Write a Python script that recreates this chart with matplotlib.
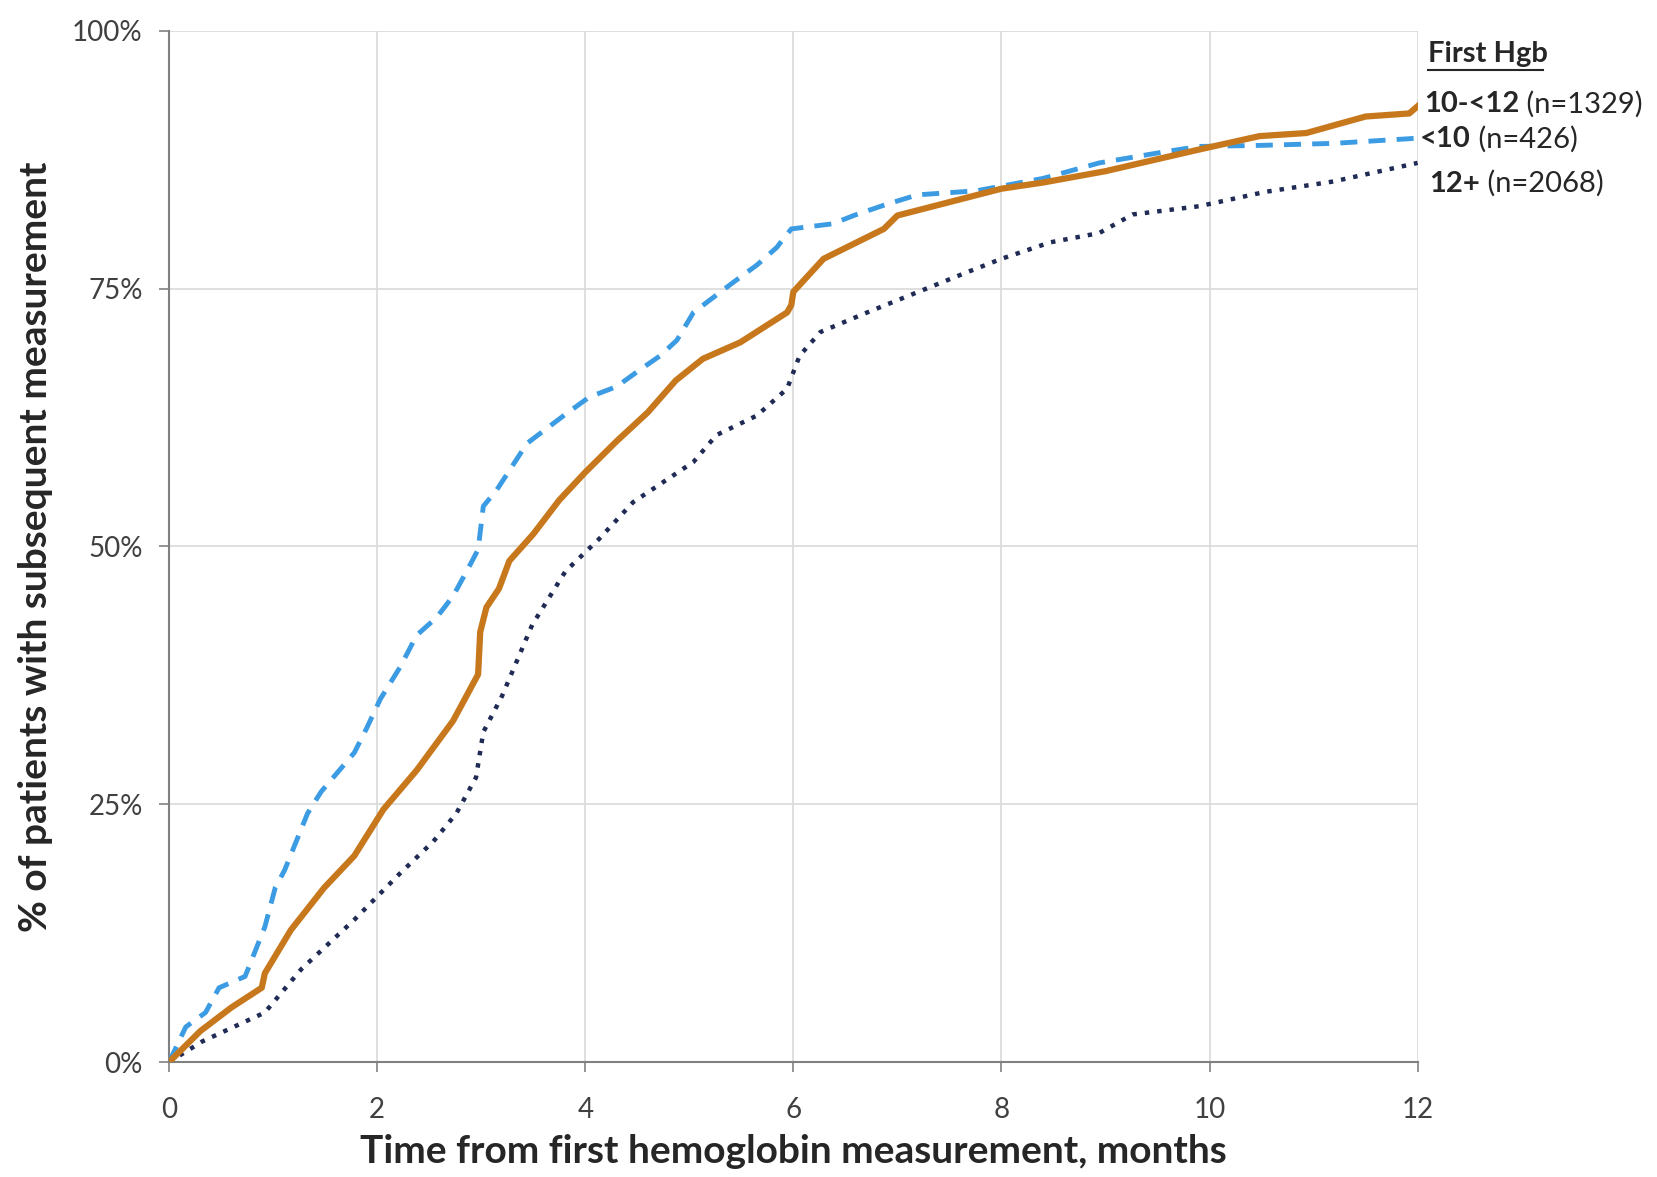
import matplotlib
matplotlib.use('Agg')
import matplotlib.pyplot as plt
import numpy as np

plt.rcParams['font.family'] = ['Lato', 'DejaVu Sans']

# months / cumulative % with a subsequent measurement, by first Hgb group
# 10-<12
x_mid = [0, 0.3, 0.6, 0.89, 0.92, 1.17, 1.49, 1.78, 2.06, 2.38, 2.73, 2.97, 2.99, 3.05, 3.17,
         3.27, 3.5, 3.75, 4.0, 4.3, 4.6, 4.87, 5.13, 5.49, 5.94, 5.98, 6.0, 6.29, 6.87, 7.0,
         7.5, 8.0, 8.4, 9.0, 9.9, 10.48, 10.93, 11.5, 11.92, 12.0]
y_mid = [0, 3, 5.3, 7.2, 8.6, 12.8, 16.9, 20, 24.5, 28.3, 33.1, 37.6, 41.7, 44.1, 45.9,
         48.6, 51.2, 54.5, 57.2, 60.2, 63, 66.1, 68.2, 69.8, 72.7, 73.4, 74.7, 77.9, 80.8, 82.1,
         83.4, 84.7, 85.3, 86.4, 88.5, 89.8, 90.1, 91.7, 92, 92.7]

# <10
x_low = [0, 0.16, 0.35, 0.48, 0.73, 0.92, 1.02, 1.11, 1.33, 1.46, 1.78, 1.9, 2.03, 2.22, 2.38,
         2.57, 2.73, 2.86, 2.97, 3.02, 3.15, 3.44, 3.82, 4.04, 4.3, 4.52, 4.72, 4.88, 5.04,
         5.42, 5.65, 5.84, 5.98, 6.38, 6.58, 6.87, 7.19, 7.76, 8.4, 8.94, 9.58, 9.9, 10.48,
         11.2, 12.0]
y_low = [0, 3.4, 4.8, 7.2, 8.3, 13.1, 16.9, 18.6, 24.1, 26.2, 30, 32.4, 35.2, 38.3, 41.4,
         43.1, 45.2, 47.6, 49.7, 53.9, 55.5, 60, 62.9, 64.5, 65.5, 67.1, 68.5, 70, 72.7,
         75.6, 77.3, 79, 80.8, 81.3, 82.1, 83.1, 84.1, 84.5, 85.7, 87.2, 88.3, 88.8, 88.9,
         89.1, 89.6]

# 12+
x_high = [0, 0.32, 0.92, 1.27, 1.78, 2.22, 2.54, 2.76, 2.95, 3.02, 3.2, 3.49, 3.81, 4.13,
          4.46, 5.04, 5.26, 5.65, 5.94, 6.06, 6.26, 6.71, 7.03, 7.67, 8.0, 8.47, 8.94, 9.26,
          9.9, 10.54, 11.19, 12.0]
y_high = [0, 2, 4.8, 9, 13.8, 18.3, 21.4, 24.1, 27.6, 32, 35.5, 42.4, 47.6, 50.7,
          54.3, 58.2, 60.8, 62.7, 65.3, 68.5, 70.8, 72.7, 74, 76.6, 77.9, 79.5, 80.4, 82.2,
          83, 84.4, 85.4, 87.2]

x_ticks = [0, 2, 4, 6, 8, 10, 12]
y_ticks = [0, 25, 50, 75, 100]
y_ticklabels = ['0%', '25%', '50%', '75%', '100%']

fig = plt.figure(figsize=(16.58, 11.77), dpi=100)
ax = fig.add_axes([0.102, 0.0977, 0.753, 0.876])

ax.plot(x_low, y_low, color='#3b9be3', lw=3.5, ls=(0, (3.5, 2.3)), zorder=3)
ax.plot(x_high, y_high, color='#1f2a55', lw=3.2, ls=(0, (1, 1.8)), zorder=3)
ax.plot(x_mid, y_mid, color='#c8781c', lw=4.5, zorder=4)

ax.set_xlim(0, 12)
ax.set_ylim(0, 100)
ax.set_xticks(x_ticks)
ax.set_yticks(y_ticks)
ax.set_yticklabels(y_ticklabels)
ax.grid(color='#d9d9d9', lw=1.2)
ax.set_axisbelow(True)
for s in ['top', 'right']:
    ax.spines[s].set_visible(False)
for s in ['left', 'bottom']:
    ax.spines[s].set_color('#808080')
    ax.spines[s].set_linewidth(1.5)
ax.tick_params(length=7, width=1.2, color='#808080', labelsize=20, labelcolor='#404040')
ax.tick_params(axis='x', pad=18)
ax.tick_params(axis='y', pad=12)

ax.set_xlabel('Time from first hemoglobin measurement, months', fontsize=28, fontweight='bold',
              color='#262626', labelpad=8)
ax.set_ylabel('% of patients with subsequent measurement', fontsize=28, fontweight='bold',
              color='#262626', labelpad=14)

# legend labels at the line ends
ax.text(1.0085, 0.978, 'First Hgb', transform=ax.transAxes, fontsize=21, fontweight='bold',
        color='#262626', va='center', ha='left')
ax.plot([1.0085, 1.1005], [0.962, 0.962], transform=ax.transAxes, color='#262626', lw=1.5,
        clip_on=False)

labels = [('10-<12', ' (n=1329)', 1.0050, 0.929),
          ('<10', ' (n=426)', 1.0020, 0.895),
          ('12+', ' (n=2068)', 1.0090, 0.852)]
for bold, rest, xx, yy in labels:
    b = ax.text(xx, yy, bold, transform=ax.transAxes, fontsize=21, fontweight='bold',
                color='#262626', va='center', ha='left')
    ax.annotate(rest, xy=(1, 0.5), xycoords=b, va='center', ha='left', fontsize=21,
                color='#262626')

fig.savefig('out.png', dpi=100, facecolor='white')
